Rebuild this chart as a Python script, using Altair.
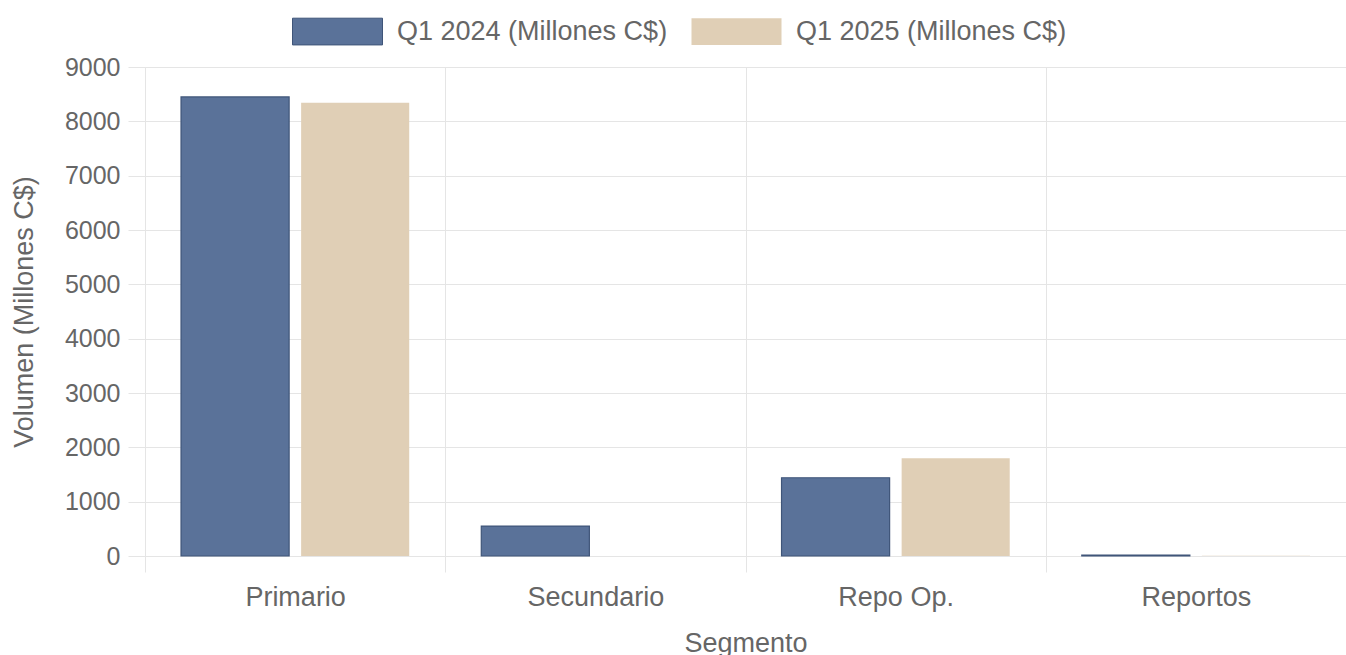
import altair as alt
import pandas as pd

segments = ["Primario", "Secundario", "Repo Op.", "Reportos"]
series = ["Q1 2024 (Millones C$)", "Q1 2025 (Millones C$)"]
q1_2024 = [8450, 550, 1440, 15]
q1_2025 = [8340, 0, 1800, 5]
y_ticks = [0, 1000, 2000, 3000, 4000, 5000, 6000, 7000, 8000, 9000]

rows = []
for s, a, b in zip(segments, q1_2024, q1_2025):
    rows.append({"Segmento": s, "Serie": series[0], "Valor": a})
    rows.append({"Segmento": s, "Serie": series[1], "Valor": b})
df = pd.DataFrame(rows)

FONT = "Liberation Sans"
GRAY = "#666666"
GRID = "#e5e5e5"
FILLS = ["#5a7299", "#e0cfb6"]
STROKES = ["#3f5579", "transparent"]

chart = alt.Chart(df).mark_bar(strokeWidth=1.2).encode(
    x=alt.X(
        "Segmento:N",
        sort=segments,
        scale=alt.Scale(paddingInner=0, paddingOuter=0),
        axis=alt.Axis(
            title="Segmento",
            labelAngle=0,
            labelFontSize=27,
            grid=True,
            gridColor=GRID,
            tickBand="extent",
            tickColor=GRID,
            tickSize=16,
            domain=False,
            labelPadding=12,
            titlePadding=20,
        ),
    ),
    xOffset=alt.XOffset(
        "Serie:N", sort=series,
        scale=alt.Scale(paddingInner=0.1, paddingOuter=0.3),
    ),
    y=alt.Y(
        "Valor:Q",
        scale=alt.Scale(domain=[0, 9000], nice=False),
        axis=alt.Axis(
            title="Volumen (Millones C$)",
            values=y_ticks,
            format="d",
            labelFontSize=25,
            grid=True,
            gridColor=GRID,
            tickColor=GRID,
            tickSize=17,
            domainColor=GRID,
            labelPadding=8,
            titlePadding=26,
        ),
    ),
    color=alt.Color(
        "Serie:N",
        scale=alt.Scale(domain=series, range=FILLS),
        legend=alt.Legend(
            title=None,
            orient="none",
            direction="horizontal",
            legendX=147,
            legendY=-81,
            symbolType="M-1,-0.297H1V0.297H-1Z",
            symbolSize=8100,
            symbolStrokeColor="#3f5579",
            symbolStrokeWidth=1,
            labelOffset=14,
            columnPadding=21,
            labelFontSize=27,
            labelLimit=500,
            labelColor=GRAY,
            labelFont=FONT,
        ),
    ),
    stroke=alt.Stroke(
        "Serie:N",
        scale=alt.Scale(domain=series, range=STROKES),
        legend=None,
    ),
).properties(
    width=1201,
    height=489,
    background="white",
    autosize=alt.AutoSizeParams(type="none"),
    padding={"left": 145, "top": 67, "right": 0, "bottom": 99},
).configure_view(
    stroke=None
).configure_axis(
    labelFont=FONT,
    titleFont=FONT,
    titleFontSize=27,
    labelColor=GRAY,
    titleColor=GRAY,
    titleFontWeight="normal",
)

chart.save("out.html", embed_options={"renderer": "svg", "actions": False})
